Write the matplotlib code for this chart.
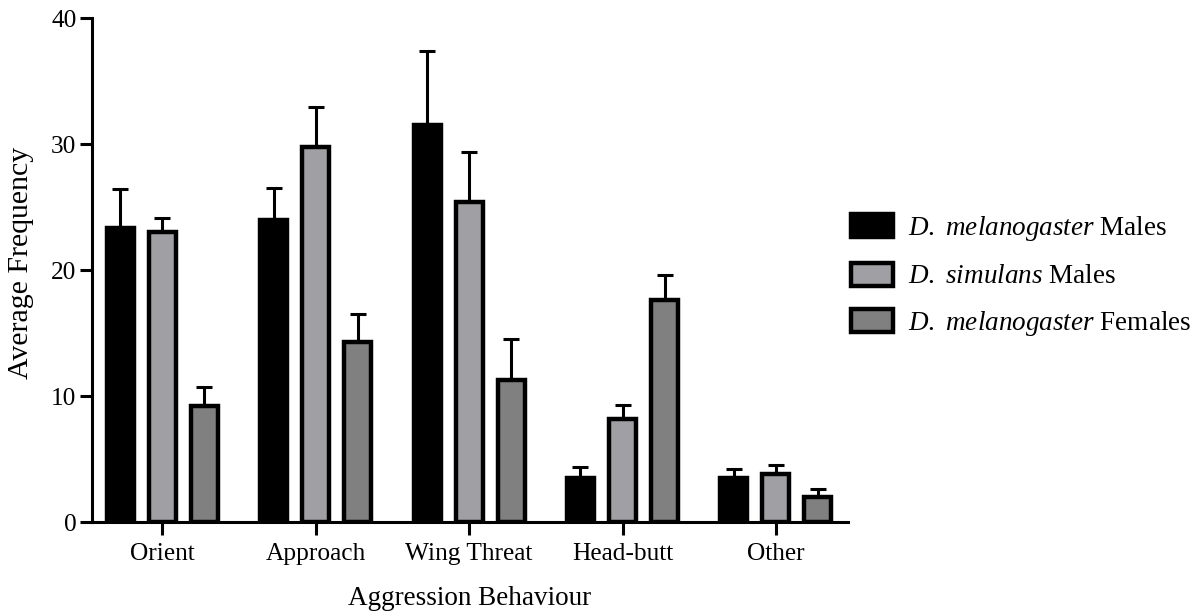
import numpy as np
import matplotlib
matplotlib.use("Agg")
import matplotlib.pyplot as plt

plt.rcParams['font.family'] = ['Liberation Serif', 'DejaVu Serif']
plt.rcParams['mathtext.fontset'] = 'custom'
plt.rcParams['mathtext.rm'] = 'Liberation Serif'
plt.rcParams['mathtext.it'] = 'Liberation Serif:italic'

# mean frequency of each behaviour and its upper error (SEM)
behaviours = ['Orient', 'Approach', 'Wing Threat', 'Head-butt', 'Other']
mel_males = [23.3, 24.0, 31.5, 3.5, 3.5]
mel_males_err = [3.1, 2.5, 5.9, 0.9, 0.7]
sim_males = [23.0, 29.8, 25.4, 8.2, 3.8]
sim_males_err = [1.1, 3.1, 4.0, 1.1, 0.7]
mel_females = [9.2, 14.3, 11.3, 17.6, 2.0]
mel_females_err = [1.5, 2.2, 3.2, 2.0, 0.6]

series = [
    (r'$\it{D.}$ $\it{melanogaster}$ Males', mel_males, mel_males_err, '#000000'),
    (r'$\it{D.}$ $\it{simulans}$ Males', sim_males, sim_males_err, '#a0a0a4'),
    (r'$\it{D.}$ $\it{melanogaster}$ Females', mel_females, mel_females_err, '#808080'),
]

fig = plt.figure(figsize=(11.99, 6.15), dpi=100)
ax = fig.add_axes([0.0765, 0.1512, 0.6308, 0.8195])

x = np.arange(len(behaviours))
width = 0.176
offset = 0.274

for i, (label, vals, errs, color) in enumerate(series):
    pos = x + (i - 1) * offset
    ax.bar(pos, vals, width, color=color, edgecolor='black', linewidth=3.2,
           label=label, zorder=3)
    ax.errorbar(pos, vals, yerr=[np.zeros(len(vals)), errs], fmt='none',
                ecolor='black', elinewidth=2.2, capsize=6, capthick=2.2, zorder=2)

ax.set_xlim(-0.46, 4.47)
ax.set_ylim(0, 40)
ax.set_yticks([0, 10, 20, 30, 40])
ax.set_xticks(x)
ax.set_xticklabels(behaviours)

for side in ['top', 'right']:
    ax.spines[side].set_visible(False)
for side in ['left', 'bottom']:
    ax.spines[side].set_linewidth(2.2)
ax.tick_params(axis='both', direction='out', length=9, width=2.2, labelsize=18.3)
ax.tick_params(axis='x', pad=6)
ax.tick_params(axis='y', pad=2)

ax.set_ylabel('Average Frequency', fontsize=21.5)
ax.yaxis.set_label_coords(-0.076, 0.515)
ax.set_xlabel('Aggression Behaviour', fontsize=19.5, labelpad=15)

leg = ax.legend(loc='center left', bbox_to_anchor=(0.99, 0.488), frameon=False,
                fontsize=19.5, handlelength=1.54, handleheight=0.93,
                labelspacing=0.72, handletextpad=0.55, borderaxespad=0.0)

fig.savefig('out.png', dpi=100)
